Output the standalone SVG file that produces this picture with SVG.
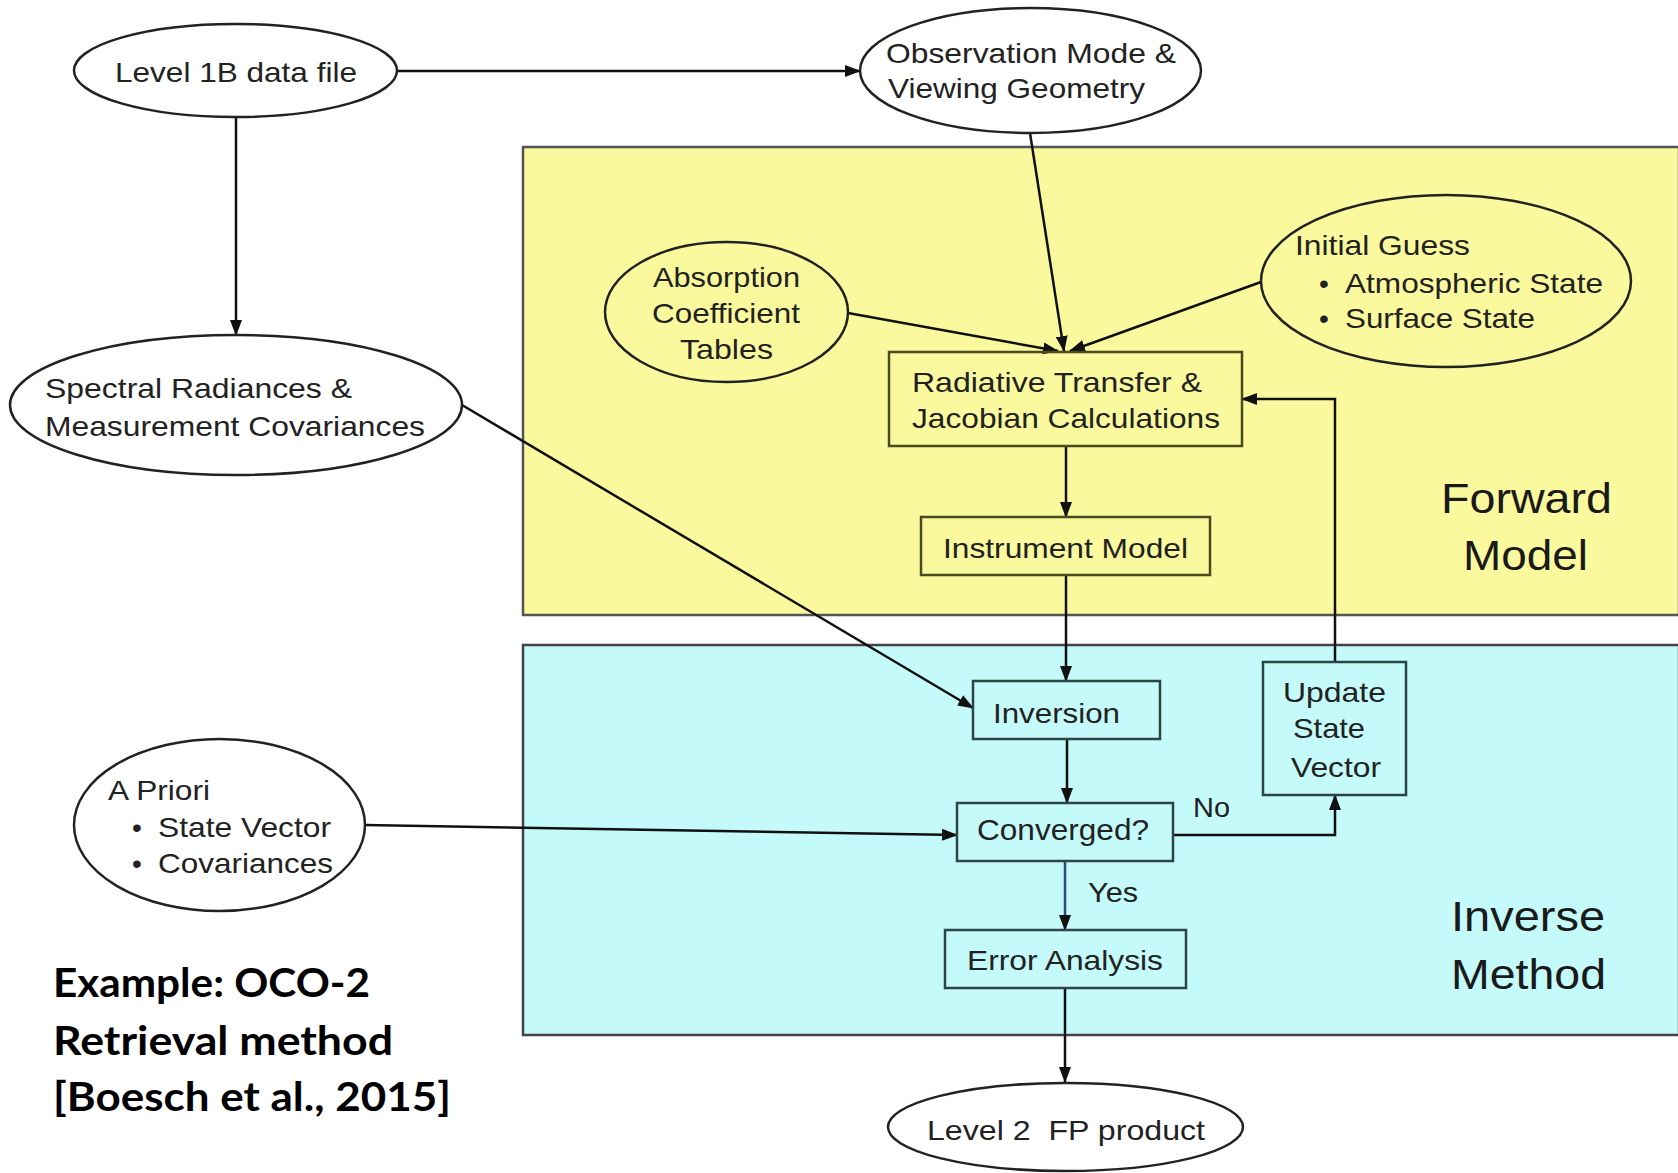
<svg xmlns="http://www.w3.org/2000/svg" width="1678" height="1173" viewBox="0 0 1678 1173">
<style>
.t{font-family:"Liberation Sans",Arial,sans-serif;font-size:28px;fill:#222}
.big{font-family:"Liberation Sans",Arial,sans-serif;font-size:42px;fill:#1a1a1a}
.cap{font-family:Lato,"Open Sans",sans-serif;font-size:41px;font-weight:bold;fill:#000}
.ell{stroke:#222;stroke-width:2.5}
.box{fill:none;stroke-width:2.5}
.yb{stroke:#4a4a20}
.cb{stroke:#2c4646}
.c{fill:none;stroke:#111;stroke-width:2.5}
</style>
<defs>
<marker id="ah" markerUnits="userSpaceOnUse" markerWidth="16" markerHeight="12" refX="15" refY="6" orient="auto">
<path d="M0,0 L16,6 L0,12 Z" fill="#111"/>
</marker>
</defs>
<rect width="1678" height="1173" fill="#fff"/>
<g id="forward-model-region">
<rect x="523" y="147" width="1156" height="468" fill="#fbf99e" stroke="#555" stroke-width="2.5"/>
<text class="big" x="1441" y="513" textLength="171" lengthAdjust="spacingAndGlyphs">Forward</text>
<text class="big" x="1463" y="570" textLength="125" lengthAdjust="spacingAndGlyphs">Model</text>
</g>
<g id="inverse-method-region">
<rect x="523" y="645" width="1156" height="390" fill="#c5fafa" stroke="#444" stroke-width="2.5"/>
<text class="big" x="1451" y="931" textLength="154" lengthAdjust="spacingAndGlyphs">Inverse</text>
<text class="big" x="1451" y="989" textLength="155" lengthAdjust="spacingAndGlyphs">Method</text>
</g>
<g id="connectors">
<line class="c" x1="397" y1="71" x2="860" y2="71" marker-end="url(#ah)"/>
<line class="c" x1="236" y1="117" x2="236" y2="335" marker-end="url(#ah)"/>
<line class="c" x1="1030" y1="133" x2="1064" y2="351" marker-end="url(#ah)"/>
<line class="c" x1="848" y1="313" x2="1058" y2="351" marker-end="url(#ah)"/>
<line class="c" x1="1261" y1="282" x2="1070" y2="351" marker-end="url(#ah)"/>
<line class="c" x1="1066" y1="446" x2="1066" y2="517" marker-end="url(#ah)"/>
<line class="c" x1="1066" y1="575" x2="1066" y2="681" marker-end="url(#ah)"/>
<line class="c" x1="462" y1="405" x2="973" y2="708" marker-end="url(#ah)"/>
<line class="c" x1="1067" y1="739" x2="1067" y2="803" marker-end="url(#ah)"/>
<line class="c" x1="365" y1="825" x2="957" y2="835" marker-end="url(#ah)"/>
<polyline class="c" points="1173,835 1335,835 1335,795" marker-end="url(#ah)"/>
<polyline class="c" points="1335,662 1335,399 1242,399" marker-end="url(#ah)"/>
<line class="c" x1="1065" y1="862" x2="1065" y2="930" stroke="#2b4a7a" style="stroke:#2b4a7a" marker-end="url(#ah)"/>
<line class="c" x1="1065" y1="988" x2="1065" y2="1082" marker-end="url(#ah)"/>
<text class="t" x="1193" y="817" textLength="37" lengthAdjust="spacingAndGlyphs">No</text>
<text class="t" x="1088" y="902" textLength="50" lengthAdjust="spacingAndGlyphs">Yes</text>
</g>
<g id="level1b">
<ellipse class="ell" cx="235.5" cy="70.5" rx="161.5" ry="46.5" fill="#fff"/>
<text class="t" x="115" y="82" textLength="242" lengthAdjust="spacingAndGlyphs">Level 1B data file</text>
</g>
<g id="observation-mode">
<ellipse class="ell" cx="1030.5" cy="70.5" rx="170.5" ry="62.5" fill="#fff"/>
<text class="t" x="886" y="63" textLength="290" lengthAdjust="spacingAndGlyphs">Observation Mode &amp;</text>
<text class="t" x="888" y="98" textLength="257" lengthAdjust="spacingAndGlyphs">Viewing Geometry</text>
</g>
<g id="spectral-radiances">
<ellipse class="ell" cx="236" cy="405" rx="226" ry="70" fill="#fff"/>
<text class="t" x="45" y="398" textLength="307" lengthAdjust="spacingAndGlyphs">Spectral Radiances &amp;</text>
<text class="t" x="45" y="436" textLength="380" lengthAdjust="spacingAndGlyphs">Measurement Covariances</text>
</g>
<g id="absorption-tables">
<ellipse class="ell" cx="726.5" cy="312" rx="121.5" ry="70" fill="none"/>
<text class="t" x="653" y="287" textLength="147" lengthAdjust="spacingAndGlyphs">Absorption</text>
<text class="t" x="652" y="323" textLength="148" lengthAdjust="spacingAndGlyphs">Coefficient</text>
<text class="t" x="680" y="359" textLength="93" lengthAdjust="spacingAndGlyphs">Tables</text>
</g>
<g id="initial-guess">
<ellipse class="ell" cx="1446" cy="281" rx="185" ry="86" fill="none"/>
<text class="t" x="1295" y="255" textLength="175" lengthAdjust="spacingAndGlyphs">Initial Guess</text>
<text class="t" x="1319" y="293">•</text>
<text class="t" x="1345" y="293" textLength="258" lengthAdjust="spacingAndGlyphs">Atmospheric State</text>
<text class="t" x="1319" y="328">•</text>
<text class="t" x="1345" y="328" textLength="190" lengthAdjust="spacingAndGlyphs">Surface State</text>
</g>
<g id="radiative-transfer">
<rect class="box yb" x="889" y="352" width="353" height="94"/>
<text class="t" x="912" y="392" textLength="290" lengthAdjust="spacingAndGlyphs">Radiative Transfer &amp;</text>
<text class="t" x="912" y="428" textLength="308" lengthAdjust="spacingAndGlyphs">Jacobian Calculations</text>
</g>
<g id="instrument-model">
<rect class="box yb" x="921" y="517" width="289" height="58"/>
<text class="t" x="943" y="558" textLength="245" lengthAdjust="spacingAndGlyphs">Instrument Model</text>
</g>
<g id="inversion">
<rect class="box cb" x="973" y="681" width="187" height="58"/>
<text class="t" x="993" y="723" textLength="127" lengthAdjust="spacingAndGlyphs">Inversion</text>
</g>
<g id="update-state-vector">
<rect class="box cb" x="1263" y="662" width="143" height="133"/>
<text class="t" x="1283" y="702" textLength="103" lengthAdjust="spacingAndGlyphs">Update</text>
<text class="t" x="1293" y="738" textLength="72" lengthAdjust="spacingAndGlyphs">State</text>
<text class="t" x="1291" y="777" textLength="90" lengthAdjust="spacingAndGlyphs">Vector</text>
</g>
<g id="converged">
<rect class="box cb" x="957" y="803" width="216" height="58"/>
<text class="t" x="977" y="840" textLength="172" lengthAdjust="spacingAndGlyphs" style="font-size:30px">Converged?</text>
</g>
<g id="error-analysis">
<rect class="box cb" x="945" y="930" width="241" height="58"/>
<text class="t" x="967" y="970" textLength="196" lengthAdjust="spacingAndGlyphs">Error Analysis</text>
</g>
<g id="a-priori">
<ellipse class="ell" cx="219.5" cy="825" rx="145.5" ry="86" fill="#fff"/>
<text class="t" x="108" y="800" textLength="102" lengthAdjust="spacingAndGlyphs">A Priori</text>
<text class="t" x="132" y="837">•</text>
<text class="t" x="158" y="837" textLength="173" lengthAdjust="spacingAndGlyphs">State Vector</text>
<text class="t" x="132" y="873">•</text>
<text class="t" x="158" y="873" textLength="175" lengthAdjust="spacingAndGlyphs">Covariances</text>
</g>
<g id="level2">
<ellipse class="ell" cx="1065.5" cy="1127" rx="177.5" ry="44" fill="#fff"/>
<text class="t" x="927" y="1140" textLength="278" lengthAdjust="spacingAndGlyphs" xml:space="preserve">Level 2  FP product</text>
</g>
<g id="caption">
<text class="cap" x="53" y="997" textLength="317" lengthAdjust="spacingAndGlyphs">Example: OCO-2</text>
<text class="cap" x="53" y="1055" textLength="340" lengthAdjust="spacingAndGlyphs">Retrieval method</text>
<text class="cap" x="53" y="1111" textLength="398" lengthAdjust="spacingAndGlyphs">[Boesch et al., 2015]</text>
</g>
</svg>
